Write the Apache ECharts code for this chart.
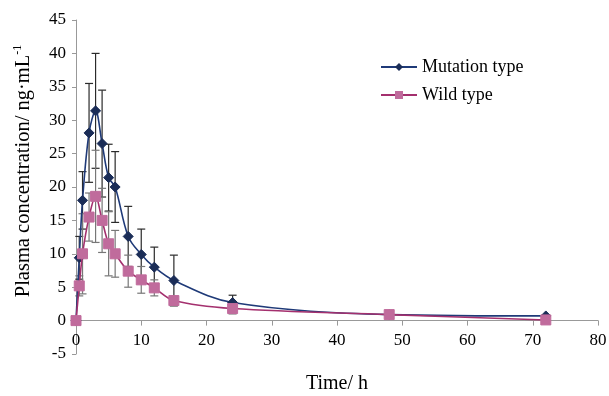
<!DOCTYPE html>
<html>
<head>
<meta charset="utf-8">
<script src="https://cdn.jsdelivr.net/npm/echarts@6/dist/echarts.min.js"></script>
<style>
  html, body { margin: 0; padding: 0; background: #fff; }
  #chart-container { width: 609px; height: 396px; }
</style>
</head>
<body>
<div id="chart-container"></div>
<script>
var times = [0, 0.5, 1, 2, 3, 4, 5, 6, 8, 10, 12, 15, 24, 48, 72];
var mutationMean = [0, 9.4, 18.0, 28.1, 31.4, 26.5, 21.4, 20.0, 12.6, 9.9, 8.0, 6.0, 2.7, 0.9, 0.7];
var mutationSd = [0, 3.2, 4.3, 7.4, 8.6, 8.0, 5.0, 5.3, 4.5, 3.8, 3.0, 3.8, 1.1, 0.3, 0.2];
var wildMean = [0, 5.2, 10.0, 15.5, 18.6, 15.0, 11.5, 10.0, 7.4, 6.1, 4.9, 3.0, 1.8, 0.9, 0.1];
var wildSd = [0, 1.5, 6.0, 3.6, 6.9, 4.8, 4.8, 3.5, 2.4, 2.0, 1.2, 0.6, 0.8, 0.3, 0.1];
var xTicks = { min: 0, max: 80, interval: 10 };
var yTicks = { min: -5, max: 45, interval: 5 };

var font = '"Liberation Serif", "Times New Roman", serif';

function pairs(xs, ys) {
  return xs.map(function (x, i) { return [x, ys[i]]; });
}
function bars(xs, ys, sd) {
  return xs.map(function (x, i) { return [x, ys[i] - sd[i], ys[i] + sd[i]]; });
}
function errorBar(color) {
  return function (params, api) {
    var lo = api.coord([api.value(0), api.value(1)]);
    var hi = api.coord([api.value(0), api.value(2)]);
    var w = 4;
    var style = { stroke: color, lineWidth: 1.2 };
    return {
      type: 'group',
      children: [
        { type: 'line', shape: { x1: lo[0], y1: lo[1], x2: hi[0], y2: hi[1] }, style: style },
        { type: 'line', shape: { x1: lo[0] - w, y1: lo[1], x2: lo[0] + w, y2: lo[1] }, style: style },
        { type: 'line', shape: { x1: hi[0] - w, y1: hi[1], x2: hi[0] + w, y2: hi[1] }, style: style }
      ]
    };
  };
}

var chartDom = document.getElementById('chart-container');
var myChart = echarts.init(chartDom);
var option;

option = {
  animation: false,
  backgroundColor: '#fff',
  textStyle: { fontFamily: font },
  grid: { left: 76, right: 11, top: 20, bottom: 42, containLabel: false, outerBoundsMode: 'none' },
  legend: {
    orient: 'vertical',
    left: 375,
    top: 53,
    itemWidth: 36,
    itemHeight: 10,
    itemGap: 10,
    textStyle: { fontFamily: font, fontSize: 18, color: '#000' },
    data: ['Mutation type', 'Wild type']
  },
  xAxis: {
    type: 'value',
    min: xTicks.min,
    max: xTicks.max,
    interval: xTicks.interval,
    name: 'Time/ h',
    nameLocation: 'middle',
    nameGap: 20,
    nameMoveOverlap: false,
    nameTextStyle: { fontFamily: font, fontSize: 20, color: '#000' },
    axisLine: { onZero: true, lineStyle: { color: '#999' } },
    axisTick: { show: true, length: 5, lineStyle: { color: '#999' } },
    axisLabel: { fontFamily: font, fontSize: 17, color: '#000', margin: -22 },
    splitLine: { show: false }
  },
  yAxis: {
    type: 'value',
    min: yTicks.min,
    max: yTicks.max,
    interval: yTicks.interval,
    name: 'Plasma concentration/ ng·mL{sup|-1}',
    nameLocation: 'middle',
    nameGap: 41,
    nameMoveOverlap: false,
    nameTextStyle: {
      fontFamily: font, fontSize: 20.5, color: '#000',
      padding: [0, 0, 0, 32],
      rich: { sup: { fontFamily: font, fontSize: 12, color: '#000', verticalAlign: 'top', padding: [0, 0, 11, 0] } }
    },
    axisLine: { show: true, onZero: false, lineStyle: { color: '#999' } },
    axisTick: { show: true, length: 4, lineStyle: { color: '#999' } },
    axisLabel: { fontFamily: font, fontSize: 17, color: '#000', margin: 10 },
    splitLine: { show: false }
  },
  series: [
    {
      name: 'Mutation error',
      type: 'custom',
      renderItem: errorBar('#2a2a2a'),
      data: bars(times, mutationMean, mutationSd),
      encode: { x: 0, y: [1, 2] },
      z: 3,
      silent: true
    },
    {
      name: 'Wild error',
      type: 'custom',
      renderItem: errorBar('#777'),
      data: bars(times, wildMean, wildSd),
      encode: { x: 0, y: [1, 2] },
      z: 3,
      silent: true
    },
    {
      name: 'Mutation type',
      type: 'line',
      smooth: 0.35,
      data: pairs(times, mutationMean),
      symbol: 'diamond',
      symbolSize: 10,
      lineStyle: { color: '#1f3a78', width: 1.6 },
      itemStyle: { color: '#1b2d57', borderColor: '#1b2d57' },
      z: 4
    },
    {
      name: 'Wild type',
      type: 'line',
      smooth: 0.35,
      data: pairs(times, wildMean),
      symbol: 'rect',
      symbolSize: 10,
      lineStyle: { color: '#a4306e', width: 1.6 },
      itemStyle: { color: '#c06b9c', borderColor: '#c06b9c' },
      z: 5
    }
  ]
};

option && myChart.setOption(option);
</script>
</body>
</html>
